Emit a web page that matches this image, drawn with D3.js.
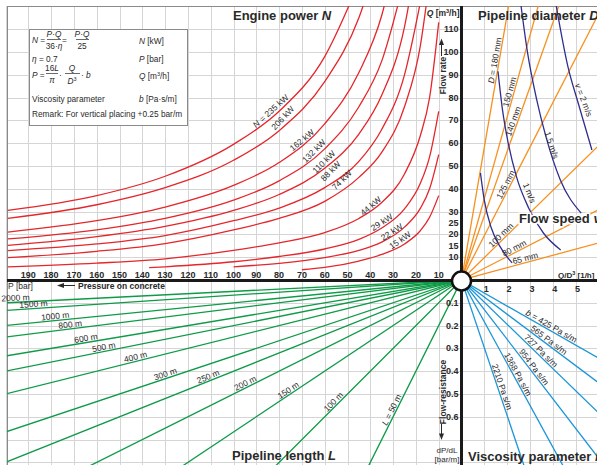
<!DOCTYPE html>
<html>
<head>
<meta charset="utf-8">
<title>Concrete pump nomogram</title>
<style>
  body { margin: 0; background: #fff; }
  svg { display: block; font-family: "Liberation Sans", Arial, sans-serif; }
</style>
</head>
<body>
<script src="https://d3js.org/d3.v7.min.js"></script>
<script>
var width = 597, height = 465;
var x0 = 461.5, y0 = 280, g = 22.8;   // origin of the four quadrants, grid step
var frameL = 7, frameT = 6;

// ---- data ----
var pressureTicks = [190, 180, 170, 160, 150, 140, 130, 120, 110, 100, 90, 80, 70, 60, 50, 40, 30, 20, 10];
var flowTicks = [110, 100, 90, 80, 70, 60, 50, 40, 30, 25, 20, 15, 10];
var ratioTicks = [1, 2, 3, 4, 5];
var resistTicks = [0.1, 0.2, 0.3, 0.4, 0.5, 0.6];

// engine power N [kW], curves as [P bar, Q m3/h]
var powerN = [235, 206, 162, 132, 110, 88, 74, 44, 29, 22, 15];
var powerCurves = [
  [[199, 30.5], [160, 37], [130, 45.5], [100, 59.5], [80, 74], [60, 98], [45, 130.5]],
  [[199, 27], [160, 33], [130, 40.5], [100, 52.5], [80, 65.5], [60, 87], [45, 115], [35, 147]],
  [[199, 21], [160, 26], [130, 32], [100, 41.5], [80, 51.5], [60, 68.5], [45, 91], [35, 116], [25, 162]],
  [[199, 18], [160, 22], [130, 27], [100, 35], [80, 43.5], [60, 57.5], [45, 76], [35, 96], [25, 132]],
  [[199, 15.2], [160, 19], [130, 23.5], [100, 30.5], [80, 37.5], [60, 49], [45, 64], [35, 81], [25, 111], [18, 153]],
  [[199, 12.9], [160, 15.8], [130, 19.5], [100, 26], [80, 31.5], [60, 40.5], [45, 52], [35, 66], [25, 90], [18, 122]],
  [[199, 9.8], [160, 12.6], [130, 16], [100, 22], [80, 27], [60, 34.5], [45, 45], [35, 56], [25, 76], [18, 103], [14, 132]],
  [[199, 5.8], [160, 7.4], [130, 9.3], [100, 13], [80, 16.3], [60, 20.8], [45, 27], [35, 34], [25, 46.5], [18, 63.5], [14, 80], [10, 113]],
  [[137, 5.4], [130, 5.8], [100, 8], [80, 10.3], [60, 13.6], [45, 17.8], [35, 22.8], [25, 31.2], [18, 42.5], [14, 54], [10, 74]],
  [[100, 5.8], [80, 7.3], [60, 9.8], [45, 13], [35, 16.6], [25, 23.2], [18, 31.5], [14, 40], [10, 55]],
  [[70, 4.5], [60, 5.5], [45, 8.3], [35, 11.2], [25, 15.8], [18, 21.7], [14, 27.5], [10, 37]]
];
var powerLabelAt = [[83.7, 74.1], [78.4, 71.1], [70, 61.4], [64.8, 56.6], [60.4, 51.8], [57.4, 47.8], [52.5, 43.9], [39.8, 32.5], [35, 25.4], [30.6, 21.1], [27, 17.5]];
var powerLabelAngle = [-42, -47, -40, -45, -45, -45, -45, -40, -33, -33, -35];

// pipeline diameter D [mm]: Q/D3 value reached at Q = 100 m3/h
var diamD = [180, 150, 140, 125, 100, 80, 65];
var diamAt100 = [1.72, 2.8, 3.55, 5.15, 10.2, 19.5, 37];
var diamLabelQ = [96, 82, 69, 41, 18.3, 12.3, 7.7];

// flow speed v [m/s], curves as [Q/D3, Q]
var speedV = ["", "1", "1.5", "2"];
var speedCurves = [
  [[0.83, 47], [1.0, 35], [1.3, 23], [1.7, 14.5], [2.22, 7.5]],
  [[1.6, 91.5], [1.8, 74.5], [2.05, 60], [2.42, 45], [2.95, 31.5], [3.6, 20.5], [4.35, 13.2]],
  [[2.55, 125], [2.9, 99.5], [3.3, 79], [3.7, 63], [4.33, 44], [5.25, 29.3]],
  [[4.07, 125], [4.67, 93.5], [5.12, 77.5], [5.72, 57]]
];
var speedLabelAt = [null, [2.98, 38.2], [3.96, 59.2], [5.36, 79]];
var speedLabelAngle = [0, 68, 71, 69];

// pipeline length L [m]: P = L * dP/dL
var lengthL = [2000, 1500, 1000, 800, 600, 500, 400, 300, 250, 200, 150, 100, 50];
var lengthLabelP = [195.5, 187.6, 178, 171.4, 164.4, 156.5, 142.5, 129.3, 110.4, 94, 74.9, 54.8, 28.9];

// viscosity parameter b [Pa s/m]: dP/dL reached at Q/D3 = 1
var viscB = [425, 565, 727, 954, 1368, 2210];
var viscSlope = [0.057, 0.075, 0.097, 0.13, 0.183, 0.297];
var viscLabelX = [3.85, 3.72, 3.35, 3.03, 2.31, 1.6];

// ---- scales ----
var xP = d3.scaleLinear().domain([0, 200]).range([x0, x0 - 20 * g]);
var yQ = d3.scaleLinear().domain([0, 120]).range([y0, y0 - 12 * g]);
var xR = d3.scaleLinear().domain([0, 6]).range([x0, x0 + 6 * g]);
var yR = d3.scaleLinear().domain([0, 0.8]).range([y0, y0 + 8 * g]);

var red = "#e5262b", orange = "#f7901e", navy = "#2f2f8f", green = "#0e9a47", blue = "#1b95d8";
var ink = "#2a2a2a";

var svg = d3.select("body").append("svg")
    .attr("width", width)
    .attr("height", height);
var defs = svg.append("defs");
function clip(id, x, y, w, h) {
    defs.append("clipPath").attr("id", id)
        .append("rect").attr("x", x).attr("y", y).attr("width", w).attr("height", h);
}
clip("cTL", frameL, frameT, x0 - frameL, y0 - frameT);
clip("cTR", x0, frameT, width - x0, y0 - frameT);
clip("cBL", frameL, y0, x0 - frameL, height - y0);
clip("cBR", x0, y0, width - x0, height - y0);

// grid
var grid = svg.append("g").attr("stroke", "#d5d5d5").attr("stroke-width", 1);
function vline(x) {
    x = Math.round(x) + 0.5;
    grid.append("line").attr("x1", x).attr("x2", x).attr("y1", frameT).attr("y2", height);
}
function hline(y) {
    y = Math.round(y) + 0.5;
    grid.append("line").attr("x1", frameL).attr("x2", width).attr("y1", y).attr("y2", y);
}
d3.range(10, 201, 10).forEach(function (p) { vline(xP(p)); });
d3.range(1, 7).forEach(function (q) { vline(xR(q)); });
d3.range(10, 121, 10).forEach(function (q) { hline(yQ(q)); });
d3.range(1, 9).forEach(function (d) { hline(yR(d / 10)); });

// frame
svg.append("rect")
    .attr("x", frameL + 0.5).attr("y", frameT + 0.5)
    .attr("width", width + 10).attr("height", height + 10)
    .attr("fill", "none").attr("stroke", "#8a8a8a");

function tag(sel, x, y, angle, symbol, rest, size) {
    var t = sel.append("text")
        .attr("transform", "translate(" + x + "," + y + ") rotate(" + angle + ")")
        .attr("text-anchor", "middle")
        .attr("dy", "0.35em")
        .attr("font-size", size || 8.5)
        .attr("fill", ink);
    if (symbol) t.append("tspan").attr("font-style", "italic").text(symbol);
    t.append("tspan").text(rest);
    return t;
}
function deg(dx, dy) { return Math.atan2(dy, dx) * 180 / Math.PI; }
// put a label just above a straight line, centred on the point (x, y) of the line
function lineTag(x, y, ang, symbol, rest) {
    var r = ang * Math.PI / 180, off = 4.5;
    return tag(svg, x + Math.sin(r) * off, y - Math.cos(r) * off, ang, symbol, rest);
}

// engine power (top left)
var powerLine = d3.line()
    .x(function (d) { return xP(d[0]); })
    .y(function (d) { return yQ(d[1]); })
    .curve(d3.curveMonotoneX);
var tl = svg.append("g").attr("clip-path", "url(#cTL)");
tl.selectAll("path").data(powerCurves).enter().append("path")
    .attr("d", powerLine)
    .attr("fill", "none").attr("stroke", red).attr("stroke-width", 1.3);
powerN.forEach(function (n, i) {
    var a = powerLabelAt[i];
    tag(svg, xP(a[0]), yQ(a[1]), powerLabelAngle[i], i === 0 ? "N" : "", (i === 0 ? " = " : "") + n + " kW");
});

// pipeline diameter and flow speed (top right)
var tr = svg.append("g").attr("clip-path", "url(#cTR)");
diamD.forEach(function (dm, i) {
    tr.append("line")
        .attr("x1", x0).attr("y1", y0)
        .attr("x2", xR(diamAt100[i] * 2)).attr("y2", yQ(200))
        .attr("stroke", orange).attr("stroke-width", 1.3);
    var q = diamLabelQ[i];
    var ang = deg(xR(diamAt100[i]) - x0, yQ(100) - y0);
    lineTag(xR(diamAt100[i] * q / 100), yQ(q), ang, i === 0 ? "D" : "", (i === 0 ? " = " : "") + dm + " mm");
});
var speedLine = d3.line()
    .x(function (d) { return xR(d[0]); })
    .y(function (d) { return yQ(d[1]); })
    .curve(d3.curveMonotoneX);
tr.selectAll("path.v").data(speedCurves).enter().append("path")
    .attr("class", "v")
    .attr("d", speedLine)
    .attr("fill", "none").attr("stroke", navy).attr("stroke-width", 1.3);
speedV.forEach(function (v, i) {
    if (!speedLabelAt[i]) return;
    var a = speedLabelAt[i];
    var last = i === speedV.length - 1;
    tag(svg, xR(a[0]), yQ(a[1]), speedLabelAngle[i], last ? "v" : "", (last ? " = " : "") + v + " m/s");
});

// pipeline length (bottom left)
var bl = svg.append("g").attr("clip-path", "url(#cBL)");
lengthL.forEach(function (L, i) {
    bl.append("line")
        .attr("x1", x0).attr("y1", y0)
        .attr("x2", xP(L * 1)).attr("y2", yR(1))
        .attr("stroke", green).attr("stroke-width", 1.3);
    var p = lengthLabelP[i];
    var ang = deg(x0 - xP(L), y0 - yR(1));
    var last = i === lengthL.length - 1;
    lineTag(xP(p), yR(p / L), ang, last ? "L" : "", (last ? " = " : "") + L + " m");
});

// viscosity parameter (bottom right)
var br = svg.append("g").attr("clip-path", "url(#cBR)");
viscB.forEach(function (b, i) {
    br.append("line")
        .attr("x1", x0).attr("y1", y0)
        .attr("x2", xR(6)).attr("y2", yR(viscSlope[i] * 6))
        .attr("stroke", blue).attr("stroke-width", 1.3);
    var x = viscLabelX[i];
    var ang = deg(xR(1) - x0, yR(viscSlope[i]) - y0);
    lineTag(xR(x), yR(viscSlope[i] * x), ang, i === 0 ? "b" : "", (i === 0 ? " = " : "") + b + " Pa s/m");
});

// axes
svg.append("line").attr("x1", frameL).attr("x2", width).attr("y1", y0 + 0.5).attr("y2", y0 + 0.5)
    .attr("stroke", "#1a1a1a").attr("stroke-width", 3);
svg.append("line").attr("x1", x0).attr("x2", x0).attr("y1", frameT).attr("y2", height)
    .attr("stroke", "#1a1a1a").attr("stroke-width", 3);
svg.append("circle").attr("cx", x0).attr("cy", y0 + 1).attr("r", 9.5)
    .attr("fill", "#fff").attr("stroke", "#111").attr("stroke-width", 2.5);

// tick labels
var ticks = svg.append("g").attr("font-size", 9).attr("font-weight", "bold").attr("fill", ink);
ticks.selectAll("text.p").data(pressureTicks).enter().append("text")
    .attr("x", function (d) { return xP(d); }).attr("y", y0 - 2.5)
    .attr("text-anchor", "middle").text(function (d) { return d; });
ticks.selectAll("text.q").data(flowTicks).enter().append("text")
    .attr("x", x0 - 3).attr("y", function (d) { return yQ(d) + 3; })
    .attr("text-anchor", "end").text(function (d) { return d; });
ticks.selectAll("text.r").data(ratioTicks).enter().append("text")
    .attr("x", function (d) { return xR(d) + 2; }).attr("y", y0 + 12)
    .attr("text-anchor", "middle").text(function (d) { return d; });
ticks.selectAll("text.d").data(resistTicks).enter().append("text")
    .attr("x", x0 - 3).attr("y", function (d) { return yR(d) + 3; })
    .attr("text-anchor", "end").text(function (d) { return d; });

// axis titles
var at = svg.append("g").attr("fill", ink).attr("font-size", 8.5);
at.append("text").attr("x", 8).attr("y", 289).text("P [bar]");
at.append("line").attr("x1", 62).attr("x2", 75).attr("y1", 285.5).attr("y2", 285.5).attr("stroke", ink);
at.append("path").attr("d", "M57,285.5 L64,283 L64,288 Z");
at.append("text").attr("x", 78).attr("y", 289).attr("font-weight", "bold").text("Pressure on concrete");
var qt = at.append("text").attr("x", 459.5).attr("y", 15.5).attr("text-anchor", "end").attr("font-weight", "bold");
qt.append("tspan").attr("font-style", "italic").text("Q");
qt.append("tspan").text(" [m");
qt.append("tspan").attr("font-size", 5.5).attr("dy", -3).text("3");
qt.append("tspan").attr("dy", 3).text("/h]");
at.append("text").attr("transform", "translate(445.5,75.5) rotate(-90)").attr("text-anchor", "middle")
    .attr("font-weight", "bold").text("Flow rate");
at.append("line").attr("x1", 441.5).attr("x2", 441.5).attr("y1", 44).attr("y2", 56).attr("stroke", ink);
at.append("path").attr("d", "M441.5,38.5 L439,45 L444,45 Z");
at.append("text").attr("transform", "translate(445.5,392) rotate(-90)").attr("text-anchor", "middle")
    .attr("font-weight", "bold").text("Flow-resistance");
at.append("line").attr("x1", 441.5).attr("x2", 441.5).attr("y1", 424).attr("y2", 434).attr("stroke", ink);
at.append("path").attr("d", "M441.5,440 L439,433.5 L444,433.5 Z");
at.append("text").attr("x", 447).attr("y", 452.5).attr("text-anchor", "middle").attr("font-size", 8).text("dP/dL");
at.append("text").attr("x", 447).attr("y", 462).attr("text-anchor", "middle").attr("font-size", 8).text("[bar/m]");
var rt = at.append("text").attr("x", 558).attr("y", 278).attr("font-weight", "bold").attr("font-size", 8);
rt.append("tspan").text("Q/D");
rt.append("tspan").attr("font-size", 5.5).attr("dy", -3).text("3");
rt.append("tspan").attr("dy", 3).text(" [1/h]");

// quadrant titles
var titles = svg.append("g").attr("font-size", 13).attr("font-weight", "bold").attr("fill", ink);
function title(x, y, txt, sym) {
    var t = titles.append("text").attr("x", x).attr("y", y);
    t.append("tspan").text(txt);
    t.append("tspan").attr("font-style", "italic").text(sym);
    return t;
}
title(233, 20, "Engine power ", "N");
title(478, 20, "Pipeline diameter ", "D");
title(519, 223, "Flow speed ", "v")
    .attr("stroke", "#fff").attr("stroke-width", 3).attr("paint-order", "stroke");
title(232, 460, "Pipeline length ", "L");
title(468, 461, "Viscosity parameter ", "b");

// formula box
var box = svg.append("g").attr("font-size", 8.3).attr("fill", ink);
box.append("rect").attr("x", 29.5).attr("y", 29.5).attr("width", 158).attr("height", 96)
    .attr("fill", "#fff").attr("stroke", "#8a8a8a");
function txt(x, y, parts, anchor) {
    var t = box.append("text").attr("x", x).attr("y", y).attr("text-anchor", anchor || "start");
    parts.forEach(function (p) {
        var s = t.append("tspan").text(p[0]);
        if (p[1] === "i") s.attr("font-style", "italic");
        if (p[1] === "sup") s.attr("font-size", 5.5).attr("dy", -3);
        if (p[1] === "down") s.attr("dy", 3);
    });
    return t;
}
function bar(x1, x2, y) {
    box.append("line").attr("x1", x1).attr("x2", x2).attr("y1", y).attr("y2", y)
        .attr("stroke", ink).attr("stroke-width", 0.7);
}
txt(32, 43, [["N", "i"], [" ="]]);
txt(54, 36.5, [["P", "i"], ["·"], ["Q", "i"]], "middle");
bar(47, 61, 39.5);
txt(54, 48.5, [["36·"], ["η", "i"]], "middle");
txt(62, 43, [["="]]);
txt(82, 36.5, [["P", "i"], ["·"], ["Q", "i"]], "middle");
bar(76, 89, 39.5);
txt(82, 48.5, [["25"]], "middle");
txt(139, 44, [["N", "i"], [" [kW]"]]);
txt(32, 61.5, [["η", "i"], [" = 0.7"]]);
txt(139, 62, [["P", "i"], [" [bar]"]]);
txt(32, 77.5, [["P", "i"], [" ="]]);
txt(52, 70.5, [["16"], ["L", "i"]], "middle");
bar(46, 58, 73.5);
txt(52, 83, [["π", "i"]], "middle");
txt(59, 77.5, [["·"]]);
txt(72, 70.5, [["Q", "i"]], "middle");
bar(65, 80, 73.5);
txt(72, 84, [["D", "i"], ["3", "sup"]], "middle");
txt(81, 77.5, [["·"], [" b", "i"]]);
txt(139, 79, [["Q", "i"], [" [m"], ["3", "sup"], ["/h]", "down"]]);
txt(32, 101.5, [["Viscosity parameter"]]);
txt(139, 101.5, [["b", "i"], [" [Pa·s/m]"]]);
txt(32, 116.5, [["Remark: For vertical placing +0.25 bar/m"]]);
</script>
</body>
</html>
